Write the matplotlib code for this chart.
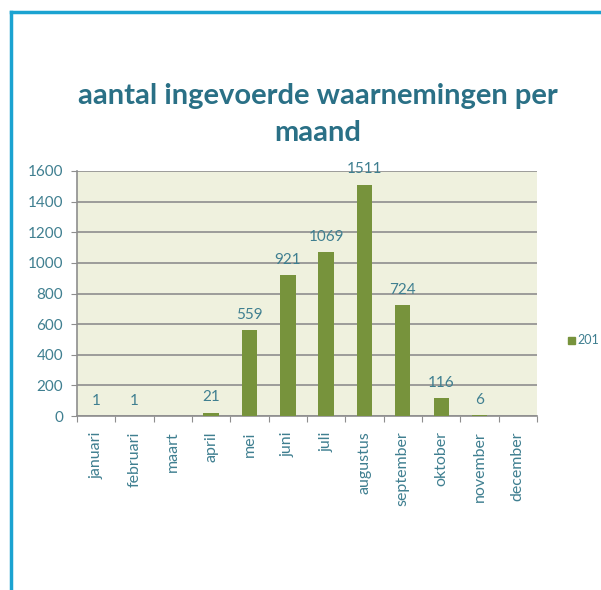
import matplotlib.pyplot as plt
from matplotlib.lines import Line2D
import numpy as np

months = ["januari", "februari", "maart", "april", "mei", "juni", "juli",
          "augustus", "september", "oktober", "november", "december"]
counts = [1, 1, 0, 21, 559, 921, 1069, 1511, 724, 116, 6, 0]
shown_labels = [True, True, False, True, True, True, True, True, True, True, True, False]
series_name = "201"  # only this much of the legend is visible

TEAL = "#2a7086"
LABEL = "#3f7f90"
BAR = "#77933c"
GRID = "#8e8e8e"

plt.rcParams["font.family"] = ["Lato", "DejaVu Sans"]

fig = plt.figure(figsize=(6.01, 5.90), dpi=100)
W, H = 601, 590

ax = fig.add_axes([77 / W, 1 - 416 / H, (537 - 77) / W, (416 - 171) / H])
ax.set_facecolor("#eff1de")

x = np.arange(len(months))
ax.bar(x, counts, width=0.4, color=BAR, zorder=3)

for xi, v, show in zip(x, counts, shown_labels):
    if show:
        ax.annotate(str(v), (xi, v), xytext=(0, 6), textcoords="offset points",
                    ha="center", va="bottom", color=LABEL, fontsize=11, zorder=4)

ax.set_ylim(0, 1600)
ax.set_yticks(range(0, 1601, 200))
ax.set_xlim(-0.5, len(months) - 0.5)
ax.set_xticks(np.arange(-0.5, len(months), 1.0))
ax.set_xticklabels([])
ax.set_xticks(x, minor=True)
ax.set_xticklabels(months, minor=True, rotation=90, color=LABEL, fontsize=11.5)
ax.tick_params(axis="x", which="major", length=4, color=GRID, direction="out")
ax.tick_params(axis="x", which="minor", length=0, pad=11)
ax.tick_params(axis="y", length=4, color=GRID, labelcolor=LABEL, labelsize=11, pad=6)
ax.yaxis.grid(True, color=GRID, linewidth=1.2, zorder=1)

for s in ["top", "right"]:
    ax.spines[s].set_visible(False)
for s in ["left", "bottom"]:
    ax.spines[s].set_color(GRID)
    ax.spines[s].set_linewidth(1.2)

fig.text(318 / W, 1 - 96 / H, "aantal ingevoerde waarnemingen per", ha="center", va="center",
         fontsize=21, fontweight="bold", color=TEAL)
fig.text(318 / W, 1 - 133 / H, "maand", ha="center", va="center",
         fontsize=21, fontweight="bold", color=TEAL)

# legend entry (runs up to the right edge in the original)
fig.patches.append(plt.Rectangle((568 / W, 1 - 344 / H), 7 / W, 7 / H,
                                 transform=fig.transFigure, color=BAR))
fig.text(577 / W, 1 - 340 / H, series_name, ha="left", va="center",
         fontsize=9, color=LABEL)

# blue frame
fig.add_artist(Line2D([11 / W, 11 / W], [0, 1 - 12 / H], color="#1ba3d1", linewidth=2.5))
fig.add_artist(Line2D([11 / W, 1], [1 - 12 / H, 1 - 12 / H], color="#1ba3d1", linewidth=2.5))

fig.savefig("out.png", dpi=100)
